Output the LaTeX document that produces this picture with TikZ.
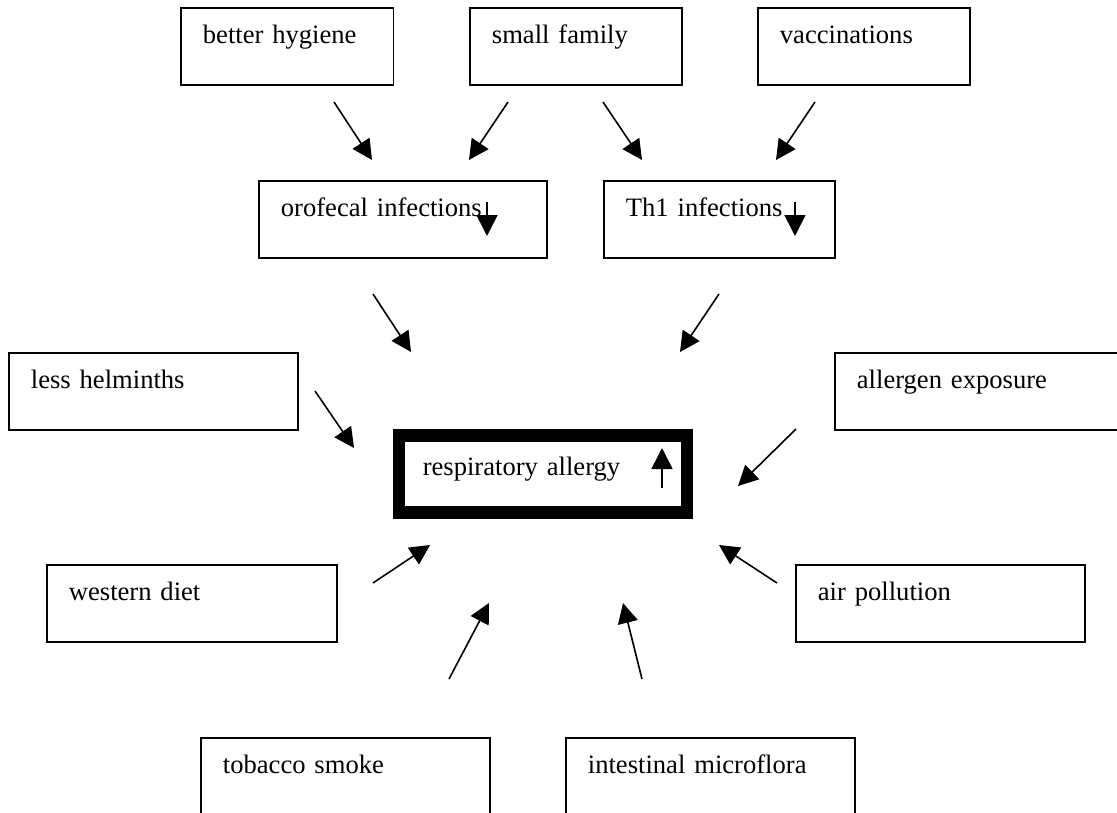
\documentclass[tikz,border=0pt]{standalone}
\usepackage{fontspec}
\setmainfont{Liberation Serif}
\usetikzlibrary{arrows.meta}
\begin{document}
\begin{tikzpicture}[x=1pt,y=-1pt,
  box/.style={draw=black, line width=1.8pt, anchor=north west, inner xsep=22pt, inner ysep=0pt,
    text height=36pt, text depth=41pt, align=left, font=\fontsize{26.6}{32}\selectfont},
  mainbox/.style={draw=black, line width=12.5pt, anchor=north west, inner xsep=24pt, inner ysep=0pt,
    text height=40pt, text depth=37pt, align=left, font=\fontsize{26.6}{32}\selectfont},
  conn/.style={line width=1.6pt, -{Triangle[length=20pt,width=20pt]}},
  trendarrow/.style={line width=1.6pt, -{Triangle[length=21pt,width=21pt]}}
]
\useasboundingbox (0,0) rectangle (1117,812);
\clip (0,0) rectangle (1117,812);
\fill[white] (0,0) rectangle (1117,812);

% boxes
\node[box, text width=168.5pt] (bh) at (180,7) {better hygiene};
\node[box, text width=168pt] (sf) at (469,7) {small family};
\node[box, text width=168pt] (vac) at (757,7) {vaccinations};
\node[box, text width=244pt] (of) at (258,180) {orofecal infections};
\node[box, text width=187pt] (th) at (603,180) {Th1 infections};
\node[box, text width=245pt] (lh) at (8,352) {less helminths};
\node[box, text width=245pt] (ae) at (834,352) {allergen exposure};
\node[mainbox, text width=240pt] (ra) at (392.5,429) {respiratory allergy};
\node[box, text width=246pt] (wd) at (46,564) {western diet};
\node[box, text width=245pt] (ap) at (795,564) {air pollution};
\node[box, text width=245pt] (ts) at (200,737) {tobacco smoke};
\node[box, text width=245pt] (im) at (565,737) {intestinal microflora};

% connector end points
\coordinate (bhS) at (334,102);  \coordinate (bhT) at (372,160);
\coordinate (sfS1) at (508,102); \coordinate (sfT1) at (469,160);
\coordinate (sfS2) at (603,102); \coordinate (sfT2) at (642,160);
\coordinate (vacS) at (815,102); \coordinate (vacT) at (776,160);
\coordinate (ofS) at (373,294);  \coordinate (ofT) at (411,352);
\coordinate (thS) at (719,294);  \coordinate (thT) at (680,352);
\coordinate (lhS) at (315,391);  \coordinate (lhT) at (354,448);
\coordinate (aeS) at (796,429);  \coordinate (aeT) at (738,486);
\coordinate (wdS) at (373,583);  \coordinate (wdT) at (430,545);
\coordinate (apS) at (777,583);  \coordinate (apT) at (719,545);
\coordinate (tsS) at (449,679);  \coordinate (tsT) at (489,603);
\coordinate (imS) at (642,679);  \coordinate (imT) at (623,603);

\draw[conn] (bhS) -- (bhT);
\draw[conn] (sfS1) -- (sfT1);
\draw[conn] (sfS2) -- (sfT2);
\draw[conn] (vacS) -- (vacT);
\draw[conn] (ofS) -- (ofT);
\draw[conn] (thS) -- (thT);
\draw[conn] (lhS) -- (lhT);
\draw[conn] (aeS) -- (aeT);
\draw[conn] (wdS) -- (wdT);
\draw[conn] (apS) -- (apT);
\draw[conn] (tsS) -- (tsT);
\draw[conn] (imS) -- (imT);

% arrows inside the boxes
\coordinate (ofA) at (487,202); \coordinate (ofB) at (487,236);
\coordinate (thA) at (795,202); \coordinate (thB) at (795,236);
\coordinate (raA) at (662,488); \coordinate (raB) at (662,448);
\draw[trendarrow] (ofA) -- (ofB);
\draw[trendarrow] (thA) -- (thB);
\draw[trendarrow] (raA) -- (raB);
\end{tikzpicture}
\end{document}
